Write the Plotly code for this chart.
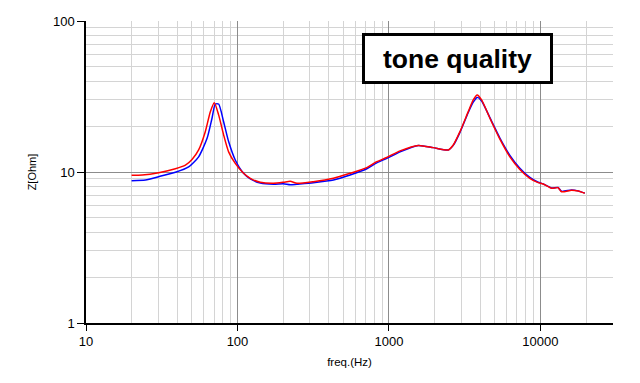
import plotly.graph_objects as go

# Frequency (Hz) and impedance (Ohm)
freq_red = [20, 23.5, 30.2, 38.9, 45.3, 50.1, 55.4, 61.3, 66.2, 70.3, 75.1, 81.0, 87.4, 96.7,
            109.7, 121.5, 141.4, 173, 201, 223, 247, 317, 430, 554, 714, 831, 967, 1184,
            1563, 1962, 2464, 2658, 2943, 3338, 3601, 3825, 4089, 4638, 5399, 6284, 7315,
            8511, 9660, 10420, 11840, 13080, 13770, 16030, 17720, 19620]
z_red = [9.51, 9.55, 9.9, 10.5, 11.1, 12.1, 14.0, 18.5, 25.1, 28.8, 23.9, 17.6, 13.6, 11.4,
         9.8, 9.08, 8.55, 8.42, 8.55, 8.68, 8.42, 8.63, 9.08, 9.8, 10.7, 11.7, 12.5, 13.8,
         15.0, 14.5, 14.0, 15.1, 18.5, 25.1, 30.0, 32.4, 30.0, 22.7, 16.5, 12.6, 10.4,
         9.08, 8.5, 8.33, 7.8, 7.87, 7.4, 7.56, 7.48, 7.23]

freq_blue = [20, 24.7, 30.2, 38.9, 47.6, 55.4, 63.0, 67.9, 71.4, 75.1, 81.0, 87.4, 96.7,
             109.7, 121.5, 141.4, 173, 201, 223, 247, 317, 430, 554, 714, 831, 967, 1184,
             1563, 1962, 2464, 2658, 2943, 3338, 3601, 3825, 4089, 4638, 5399, 6284, 7315,
             8511, 9660, 10420, 11840, 13080, 13770, 16030, 17720, 19620]
z_blue = [8.76, 8.85, 9.31, 9.95, 10.8, 12.6, 16.7, 22.7, 28.2, 28.2, 21.5, 15.9, 12.0,
          9.8, 9.0, 8.45, 8.29, 8.35, 8.22, 8.3, 8.5, 8.85, 9.55, 10.5, 11.5, 12.3, 13.6,
          15.0, 14.5, 14.0, 15.0, 18.3, 24.8, 29.0, 31.2, 29.5, 22.9, 16.8, 12.9, 10.6,
          9.2, 8.55, 8.35, 7.85, 7.9, 7.45, 7.6, 7.5, 7.25]

x_range_log = [1, 4.479]
y_range_log = [0, 2]

fig = go.Figure()
fig.add_trace(go.Scatter(x=freq_blue, y=z_blue, mode="lines",
                         line=dict(color="#0000ff", width=1.5, shape="spline", smoothing=0.6),
                         showlegend=False))
fig.add_trace(go.Scatter(x=freq_red, y=z_red, mode="lines",
                         line=dict(color="#ff0000", width=1.5, shape="spline", smoothing=0.6),
                         showlegend=False))

font_main = "Liberation Sans, Arial, sans-serif"

# The page body adds an 8px margin, so the figure's margins compensate for it.
fig.update_layout(
    width=640, height=383,
    margin=dict(l=78, r=35, t=13, b=68),
    paper_bgcolor="white", plot_bgcolor="white",
    font=dict(family=font_main, color="#000000"),
    xaxis=dict(
        type="log", range=x_range_log, dtick=1, automargin=False,
        tickformat="d",
        showgrid=True, gridcolor="#8c8c8c", gridwidth=1,
        minor=dict(dtick="D1", showgrid=True, gridcolor="#d4d4d4", gridwidth=1, ticks=""),
        showline=True, linecolor="#000000", linewidth=1.5,
        ticks="outside", ticklen=6, tickcolor="#000000",
        tickfont=dict(size=13), zeroline=False,
        title=dict(text="freq.(Hz)", font=dict(size=11.5), standoff=10),
    ),
    yaxis=dict(
        type="log", range=y_range_log, dtick=1, automargin=False,
        tickformat="d",
        showgrid=True, gridcolor="#8c8c8c", gridwidth=1,
        minor=dict(dtick="D1", showgrid=True, gridcolor="#d4d4d4", gridwidth=1, ticks=""),
        showline=True, linecolor="#000000", linewidth=1.5,
        ticks="outside", ticklen=7, tickcolor="#000000",
        tickfont=dict(size=13), zeroline=False,
        title=dict(text="Z[Ohm]", font=dict(size=11), standoff=14),
    ),
    annotations=[dict(
        text="<b>tone quality</b>", xref="paper", yref="paper",
        x=0.704, y=0.877, xanchor="center", yanchor="middle", showarrow=False,
        font=dict(size=26.5, color="#000000", family=font_main),
        bgcolor="white", bordercolor="#000000", borderwidth=3, borderpad=0,
        width=185, height=45,
    )],
)

fig.write_html("out.html")
